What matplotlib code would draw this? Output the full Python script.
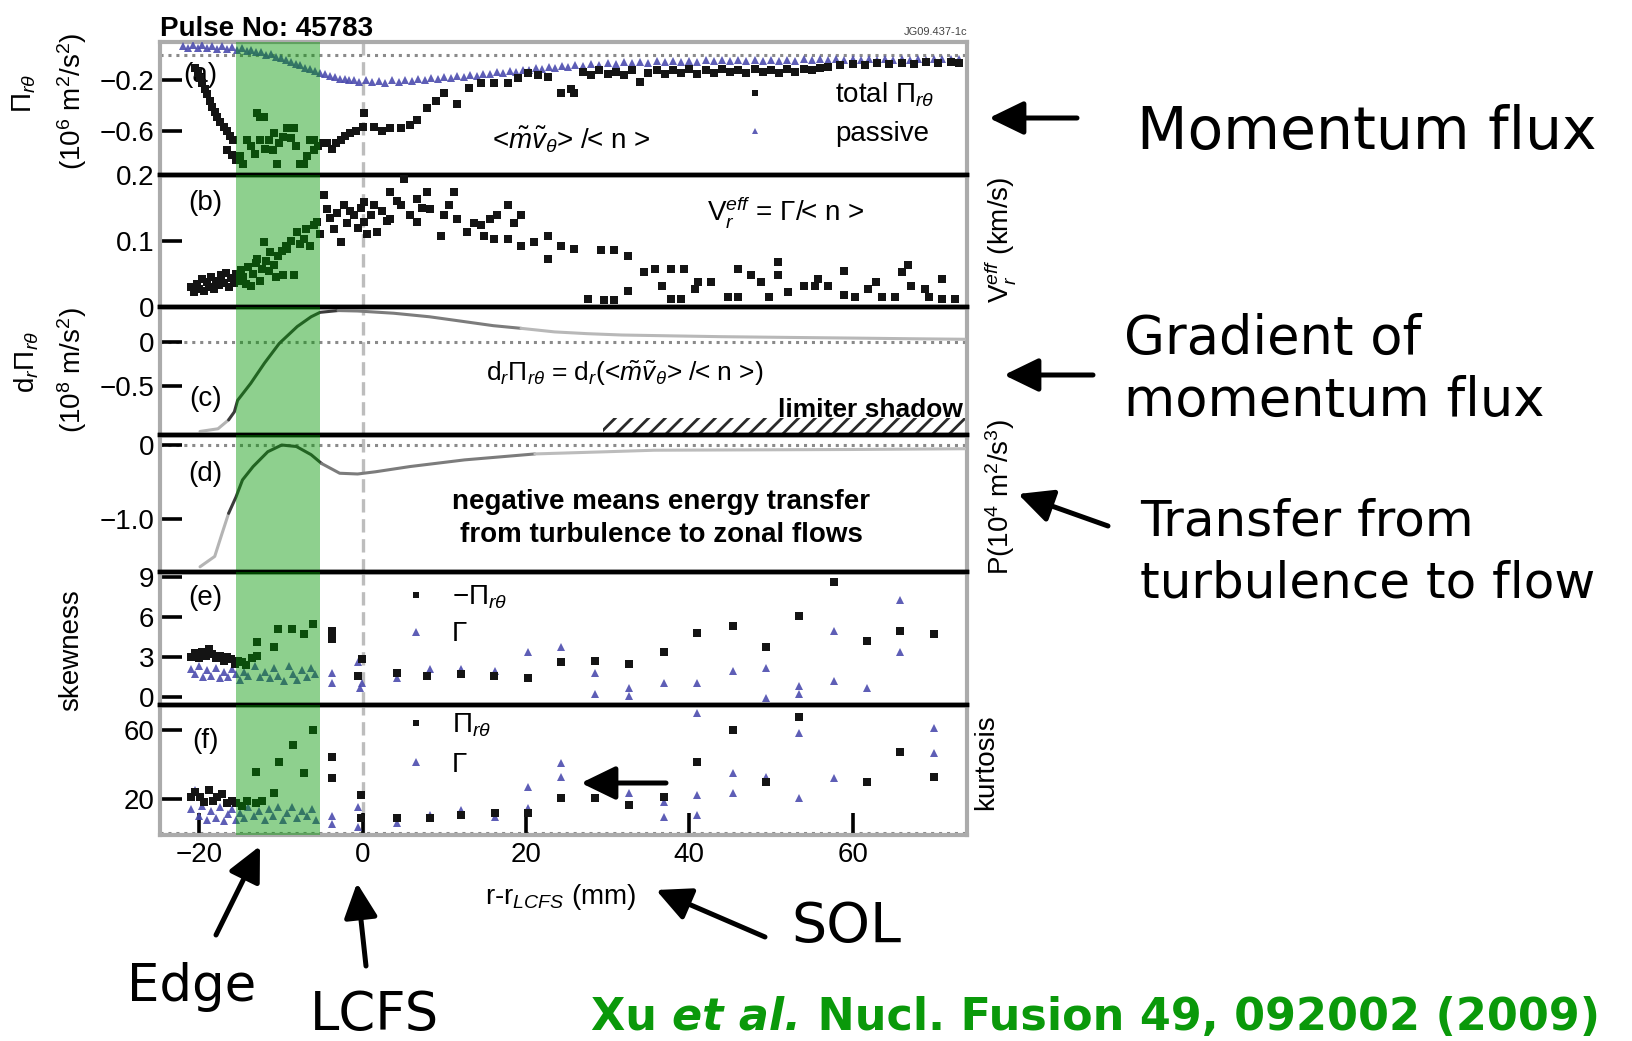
import matplotlib
matplotlib.use("Agg")
import matplotlib.pyplot as plt
import numpy as np

plt.rcParams['font.family'] = ['Liberation Sans', 'DejaVu Sans']
plt.rcParams['mathtext.fontset'] = 'custom'
plt.rcParams['mathtext.rm'] = 'Liberation Sans'
plt.rcParams['mathtext.it'] = 'Liberation Sans:italic'
plt.rcParams['mathtext.bf'] = 'Liberation Sans:bold'
plt.rcParams['mathtext.sf'] = 'Liberation Sans'
plt.rcParams['hatch.linewidth'] = 2.0

# ---------------------------------------------------------------- data
# (a) momentum flux Pi_r_theta (10^6 m^2/s^2)
pa_total_x = [-20.5, -20.2, -19.9, -19.6, -19.3, -19.0, -18.7, -18.4, -18.1, -17.8, -17.4,
              -17.0, -16.6, -16.2, -15.9, -16.6, -16.0, -15.5, -15.0, -14.6, -14.1, -13.6,
              -13.2, -12.9, -12.5, -12.1, -12.6, -11.9, -11.5, -11.0, -10.9, -10.5, -10.2,
              -9.7, -9.2, -8.8, -8.4, -8.8, -8.2, -7.6, -7.2, -6.8, -6.4, -6.0, -5.9, -5.4,
              -4.8, -4.3, -3.8, -3.3, -2.7, -2.1, -1.5, -0.8, 0.0, 0.2, 1.4, 2.4, 3.4, 4.7,
              5.8, 6.7, 7.9, 9.0, 10.0, 11.6, 13.0, 14.5, 16.1, 17.8, 19.0, 20.2, 21.5,
              22.7, 24.3, 25.5, 25.9, 27.0, 28.0, 29.0, 30.0, 31.0, 32.0, 33.0, 34.0, 35.0,
              36.0, 37.0, 38.0, 39.0, 40.0, 41.0, 42.0, 43.0, 44.0, 45.0, 46.0, 47.0, 48.0,
              49.0, 50.0, 51.0, 52.0, 53.0, 54.0, 55.0, 56.0, 57.0, 58.5, 60.0, 61.5, 63.0,
              64.5, 66.0, 67.5, 69.0, 70.5, 72.0, 73.0]
pa_total_y = [-0.10, -0.14, -0.18, -0.22, -0.27, -0.31, -0.36, -0.41, -0.45, -0.49, -0.53,
              -0.57, -0.60, -0.64, -0.67, -0.75, -0.79, -0.83, -0.80, -0.86, -0.67, -0.72,
              -0.78, -0.46, -0.49, -0.49, -0.67, -0.74, -0.67, -0.75, -0.62, -0.86, -0.70,
              -0.65, -0.58, -0.58, -0.58, -0.66, -0.72, -0.86, -0.86, -0.80, -0.67, -0.67,
              -0.75, -0.72, -0.70, -0.70, -0.74, -0.70, -0.67, -0.64, -0.62, -0.60, -0.57,
              -0.46, -0.57, -0.60, -0.58, -0.58, -0.55, -0.51, -0.42, -0.36, -0.30, -0.39,
              -0.26, -0.22, -0.22, -0.22, -0.18, -0.14, -0.16, -0.17, -0.30, -0.27, -0.30,
              -0.13, -0.16, -0.12, -0.15, -0.13, -0.16, -0.12, -0.21, -0.14, -0.12, -0.15,
              -0.12, -0.14, -0.11, -0.15, -0.12, -0.14, -0.11, -0.13, -0.12, -0.14, -0.11,
              -0.13, -0.12, -0.14, -0.11, -0.13, -0.11, -0.12, -0.10, -0.09, -0.08, -0.07,
              -0.08, -0.06, -0.07, -0.06, -0.07, -0.05, -0.06, -0.05, -0.06]

pa_pass_x = [-22.0, -21.4, -20.8, -20.2, -19.6, -19.0, -18.4, -17.8, -17.2, -16.6, -16.0,
             -15.4, -14.8, -14.2, -13.6, -13.0, -12.4, -11.8, -11.2, -10.6, -10.0, -9.4,
             -8.8, -8.2, -7.6, -7.0, -6.4, -5.8, -5.2, -4.6, -4.0, -3.4, -2.8, -2.2, -1.6,
             -1.0, -0.4, 0.4, 1.2, 2.0, 2.8, 3.6, 4.4, 5.2, 6.0, 6.8, 7.6, 8.4, 9.2, 10.0,
             10.8, 11.6, 12.4, 13.2, 14.0, 14.8, 15.6, 16.4, 17.2, 18.0, 18.8, 19.6, 20.4,
             21.2, 22.0, 22.8, 23.6, 24.4, 25.2, 26.0, 27.0, 28.0, 29.0, 30.0, 31.0, 32.0,
             33.0, 34.0, 35.0, 36.0, 37.0, 38.0, 39.0, 40.0, 41.0, 42.0, 43.0, 44.0, 45.0,
             46.0, 47.0, 48.0, 49.0, 50.0, 51.0, 52.0, 53.0, 54.0, 55.0, 56.0, 57.0, 58.0,
             59.0, 60.0, 61.0, 62.0, 63.0, 64.0, 65.0, 66.0, 67.0, 68.0, 69.0, 70.0, 71.0,
             72.0, 73.0]
pa_pass_y = [0.075, 0.060, 0.080, 0.055, 0.078, 0.058, 0.075, 0.052, 0.072, 0.050, 0.066,
             0.045, 0.058, 0.036, 0.045, 0.022, 0.028, 0.005, 0.008, -0.015, -0.022, -0.040,
             -0.052, -0.068, -0.080, -0.098, -0.110, -0.125, -0.140, -0.150, -0.168, -0.175,
             -0.190, -0.188, -0.200, -0.195, -0.210, -0.200, -0.215, -0.205, -0.218, -0.200,
             -0.212, -0.195, -0.205, -0.188, -0.198, -0.178, -0.190, -0.172, -0.182, -0.165,
             -0.172, -0.155, -0.162, -0.145, -0.150, -0.135, -0.140, -0.125, -0.130, -0.115,
             -0.120, -0.105, -0.110, -0.095, -0.100, -0.085, -0.090, -0.078, -0.082, -0.068,
             -0.075, -0.062, -0.068, -0.055, -0.062, -0.050, -0.058, -0.047, -0.055, -0.044,
             -0.052, -0.042, -0.050, -0.040, -0.048, -0.038, -0.046, -0.037, -0.045, -0.036,
             -0.044, -0.035, -0.043, -0.034, -0.042, -0.033, -0.041, -0.032, -0.040, -0.031,
             -0.039, -0.030, -0.038, -0.030, -0.037, -0.029, -0.036, -0.028, -0.035, -0.028,
             -0.034, -0.027, -0.033, -0.027, -0.032]

# (b) effective radial velocity V_r^eff (km/s)
pb_x = [-21.0, -20.6, -20.3, -20.0, -19.7, -19.4, -19.1, -18.8, -18.5, -18.2, -17.9, -17.6,
        -17.3, -17.0, -16.7, -16.4, -16.1, -15.8, -15.5, -15.2, -14.9, -14.6, -14.3, -14.0,
        -13.7, -13.4, -13.1, -12.9, -12.6, -12.3, -12.1, -11.8, -11.5, -11.3, -10.9, -10.6,
        -10.3, -9.9, -9.7, -9.4, -9.2, -8.8, -8.4, -8.0, -7.7, -7.2, -6.9, -6.4, -6.0, -5.6,
        -5.2, -4.7, -4.3, -4.0, -3.5, -3.1, -2.7, -2.3, -1.9, -1.5, -1.1, -0.6, -0.2, 0.2,
        0.2, 0.6, 1.0, 1.4, 1.8, 2.4, 3.0, 3.4, 3.4, 4.2, 4.7, 5.1, 5.8, 6.7, 6.7, 7.3, 7.9,
        8.3, 9.6, 10.0, 10.6, 11.2, 11.6, 12.8, 13.6, 14.5, 14.9, 15.6, 16.1, 16.5, 17.8,
        17.8, 18.6, 19.4, 19.4, 21.0, 22.7, 22.7, 24.3, 25.9, 27.6, 29.2, 29.6, 30.8, 30.8,
        32.5, 32.5, 34.5, 35.8, 36.6, 37.8, 37.8, 39.0, 39.4, 40.7, 41.1, 42.7, 44.7, 46.0,
        46.0, 47.6, 48.8, 49.7, 50.9, 50.9, 52.1, 54.1, 55.4, 55.8, 57.0, 59.0, 59.0, 60.3,
        61.9, 62.8, 63.6, 65.2, 66.0, 66.8, 67.2, 68.9, 69.3, 70.9, 70.9, 72.5]
pb_y = [0.030, 0.022, 0.035, 0.028, 0.042, 0.025, 0.038, 0.030, 0.045, 0.027, 0.040, 0.033,
        0.048, 0.036, 0.052, 0.030, 0.044, 0.037, 0.050, 0.040, 0.056, 0.045, 0.035, 0.060,
        0.032, 0.050, 0.066, 0.073, 0.040, 0.058, 0.098, 0.070, 0.054, 0.083, 0.063, 0.045,
        0.078, 0.085, 0.048, 0.092, 0.088, 0.100, 0.048, 0.113, 0.095, 0.103, 0.118, 0.093,
        0.125, 0.129, 0.110, 0.169, 0.149, 0.135, 0.118, 0.142, 0.098, 0.154, 0.128, 0.145,
        0.139, 0.120, 0.150, 0.159, 0.129, 0.110, 0.140, 0.154, 0.113, 0.145, 0.130, 0.174,
        0.134, 0.160, 0.154, 0.194, 0.140, 0.164, 0.129, 0.150, 0.174, 0.149, 0.108, 0.139,
        0.155, 0.174, 0.134, 0.113, 0.128, 0.124, 0.108, 0.133, 0.103, 0.139, 0.154, 0.103,
        0.128, 0.139, 0.093, 0.098, 0.108, 0.073, 0.093, 0.088, 0.012, 0.086, 0.010, 0.086,
        0.010, 0.078, 0.025, 0.053, 0.058, 0.032, 0.058, 0.012, 0.012, 0.058, 0.027, 0.038,
        0.038, 0.015, 0.015, 0.058, 0.048, 0.038, 0.015, 0.048, 0.068, 0.022, 0.032, 0.032,
        0.043, 0.032, 0.055, 0.018, 0.015, 0.027, 0.038, 0.015, 0.015, 0.053, 0.063, 0.032,
        0.027, 0.015, 0.043, 0.012, 0.012]

# (c) radial gradient of the momentum flux (10^8 m/s^2)
pc_x = [-19.9, -17.7, -16.4, -15.7, -15.3, -13.7, -12.0, -10.2, -8.0, -6.3, -5.2, -3.0, -0.6,
        3.8, 8.2, 12.5, 16.0, 19.4, 23.5, 27.5, 31.7, 38.0, 44.0, 52.0, 60.3, 67.0, 73.7]
pc_y = [-1.01, -0.98, -0.88, -0.79, -0.66, -0.47, -0.24, -0.02, 0.17, 0.28, 0.33, 0.35, 0.345,
        0.32, 0.28, 0.225, 0.18, 0.15, 0.11, 0.09, 0.075, 0.065, 0.056, 0.048, 0.040, 0.033,
        0.027]
limiter_start = 29.4

# (d) energy transfer rate P (10^4 m^2/s^3)
pd_x = [-19.9, -18.1, -17.2, -16.4, -15.5, -14.7, -13.4, -11.6, -9.9, -8.1, -6.3, -5.0, -2.8,
        -0.6, 1.6, 5.8, 12.5, 21.1, 30.0, 35.7, 48.0, 60.0, 73.7]
pd_y = [-1.64, -1.50, -1.19, -0.92, -0.70, -0.47, -0.29, -0.09, 0.0, -0.02, -0.13, -0.25, -0.38,
        -0.39, -0.36, -0.29, -0.20, -0.12, -0.09, -0.07, -0.065, -0.06, -0.05]

# (e) skewness
pe_pi_x = [-21.0, -20.5, -20.0, -19.7, -19.2, -18.8, -18.4, -18.0, -17.5, -17.0, -16.6, -16.1,
           -15.6, -15.2, -14.8, -14.3, -13.5, -12.9, -12.9, -10.9, -10.3, -8.6, -7.2, -6.1,
           -3.7, -3.7, -0.1, -0.6, 4.2, 7.9, 12.1, 16.1, 20.2, 24.3, 28.4, 32.6, 36.9, 41.0,
           45.3, 49.4, 53.4, 57.7, 61.7, 65.8, 70.0]
pe_pi_y = [3.0, 3.3, 2.9, 3.35, 3.1, 3.6, 3.2, 2.9, 3.1, 2.7, 3.0, 2.84, 2.5, 2.7, 2.6, 2.4, 2.9,
           4.1, 3.1, 3.73, 5.1, 5.1, 4.73, 5.49, 5.0, 4.36, 2.84, 1.58, 1.83, 1.58, 1.7, 1.58,
           1.45, 2.6, 2.7, 2.46, 3.35, 4.8, 5.36, 3.73, 6.1, 8.65, 4.23, 5.0, 4.73]
pe_gam_x = [-21.0, -20.5, -20.0, -19.5, -19.0, -18.5, -18.0, -17.5, -17.0, -16.5, -16.0, -15.5,
            -15.0, -14.5, -14.0, -13.2, -12.6, -12.0, -11.3, -10.8, -10.3, -9.6, -9.0, -8.5,
            -8.0, -7.4, -6.8, -6.3, -5.8, -3.7, -3.7, -0.6, -0.1, -0.3, 4.2, 8.2, 12.1, 16.2,
            20.2, 24.3, 28.4, 28.4, 32.6, 32.6, 36.9, 41.0, 45.3, 49.4, 49.4, 53.4, 53.4, 57.7,
            57.7, 61.7, 65.8, 65.8, 70.0]
pe_gam_y = [2.1, 1.7, 2.3, 1.5, 2.0, 1.6, 2.2, 1.4, 1.9, 1.5, 2.1, 1.7, 1.3, 1.9, 1.6, 2.3, 1.5,
            1.9, 1.4, 2.2, 1.6, 1.2, 2.3, 1.7, 1.3, 2.0, 1.5, 2.2, 1.7, 1.83, 1.08, 2.6, 1.08,
            0.7, 1.45, 2.08, 2.08, 1.95, 3.35, 3.75, 1.83, 0.2, 0.7, 0.06, 1.08, 1.08, 1.95,
            2.2, -0.06, 0.82, 0.2, 5.0, 1.2, 0.7, 7.26, 3.35, 4.73]

# (f) kurtosis
pf_pi_x = [-21.0, -20.5, -19.9, -19.4, -18.8, -18.3, -17.8, -17.2, -16.6, -16.0, -15.5, -14.8,
           -14.2, -13.1, -13.1, -12.3, -10.9, -10.2, -8.5, -7.2, -6.1, -3.7, -3.7, -0.2, -0.2,
           4.2, 8.2, 12.1, 16.2, 20.2, 24.3, 28.4, 32.6, 36.9, 41.0, 45.3, 49.4, 53.4, 61.7,
           65.8, 70.0]
pf_pi_y = [21.0, 24.0, 21.3, 18.0, 25.2, 19.0, 21.3, 23.0, 17.4, 19.0, 17.4, 16.0, 18.5, 35.8,
           17.4, 19.0, 23.2, 41.6, 51.4, 34.9, 60.1, 44.5, 32.0, 22.2, 8.7, 8.7, 8.7, 10.6, 11.6,
           11.6, 20.3, 20.3, 16.4, 21.3, 41.6, 60.1, 30.0, 67.8, 30.0, 47.5, 32.9]
pf_gam_x = [-21.0, -20.5, -20.0, -19.6, -19.0, -18.5, -18.0, -17.5, -17.0, -16.5, -16.0, -15.5,
            -15.0, -14.5, -14.0, -13.3, -12.7, -12.0, -11.5, -11.0, -10.3, -9.8, -9.2, -8.6,
            -8.0, -7.4, -6.8, -6.2, -5.7, -3.7, -3.7, -0.6, -0.6, 4.2, 8.2, 12.1, 16.2, 20.2,
            20.2, 24.3, 24.3, 28.4, 32.6, 36.9, 36.9, 41.0, 41.0, 41.0, 45.3, 45.3, 49.4, 53.4,
            53.4, 57.7, 70.0, 70.0]
pf_gam_y = [14.0, 25.2, 10.0, 16.0, 8.0, 13.0, 9.0, 15.0, 7.0, 11.0, 14.0, 8.0, 12.0, 9.0, 15.0,
            10.0, 13.0, 8.0, 14.0, 10.0, 15.4, 8.0, 12.0, 15.4, 9.0, 13.0, 10.0, 14.0, 8.0, 10.3,
            5.5, 15.4, 3.8, 5.8, 10.6, 13.5, 9.7, 27.1, 14.5, 40.7, 32.9, 20.3, 23.2, 18.4, 9.6,
            69.8, 22.3, 10.6, 34.9, 23.2, 32.9, 58.2, 20.3, 32.0, 61.1, 46.5]

edge_band = (-15.5, -5.2)
x_ticks = [-20, 0, 20, 40, 60]
x_ticklabels = ['\u221220', '0', '20', '40', '60']

# ---------------------------------------------------------------- figure
W, H, DPI = 1632, 1041, 100
fig = plt.figure(figsize=(W / DPI, H / DPI), dpi=DPI, facecolor='white')

L, R = 160, 967
bounds = [(42, 175), (175, 307), (307, 435), (435, 572), (572, 705), (705, 835)]
ylims = [(-0.95, 0.105), (0.0, 0.2), (-1.05, 0.39), (-1.71, 0.135), (-0.6, 9.4), (-1.0, 74.6)]
yticks = [[-0.6, -0.2], [0, 0.1, 0.2], [-0.5, 0], [-1.0, 0], [0, 3, 6, 9], [20, 60]]
yticklabels = [['\u22120.6', '\u22120.2'], ['0', '0.1', '0.2'], ['\u22120.5', '0'],
               ['\u22121.0', '0'], ['0', '3', '6', '9'], ['20', '60']]

FRAME = '#ababab'
BLK = '#141414'
BLUE = '#4c4cae'
GREEN = (2 / 255, 150 / 255, 2 / 255)
FS = 20
MS_BLK = 5.4

axes = []
for i, (top, bot) in enumerate(bounds):
    ax = fig.add_axes([L / W, 1 - bot / H, (R - L) / W, (bot - top) / H])
    ax.set_xlim(-24.8, 74.0)
    ax.set_ylim(*ylims[i])
    ax.set_yticks(yticks[i])
    ax.set_yticklabels(yticklabels[i], fontsize=FS)
    ax.tick_params(axis='y', direction='in', length=16, width=2.6, pad=4, colors='k')
    ax.set_xticks(x_ticks)
    if i == 5:
        ax.set_xticklabels(x_ticklabels, fontsize=FS)
        ax.tick_params(axis='x', direction='in', length=16, width=2.6, pad=5)
    else:
        ax.tick_params(axis='x', bottom=False, labelbottom=False)
    for s in ('left', 'right'):
        ax.spines[s].set_color(FRAME)
        ax.spines[s].set_linewidth(3.0)
    ax.spines['top'].set_color(FRAME if i == 0 else 'k')
    ax.spines['top'].set_linewidth(3.0 if i == 0 else 3.2)
    ax.spines['bottom'].set_color(FRAME if i == 5 else 'k')
    ax.spines['bottom'].set_linewidth(3.0 if i == 5 else 3.2)
    # separatrix position and edge region
    ax.axvline(0, color='#bdbdbd', lw=2.4, ls=(0, (4, 2)), zorder=1)
    ax.axvspan(*edge_band, color=GREEN, alpha=0.447, lw=0, zorder=10)
    ax.patch.set_alpha(0)
    axes.append(ax)

ax_a, ax_b, ax_c, ax_d, ax_e, ax_f = axes
dotted = dict(color='#8a8a8a', lw=2.2, ls=(0, (1, 1.6)), zorder=1)
for ax in (ax_a, ax_c, ax_d, ax_f):
    ax.axhline(0, **dotted)

# (a)
h_pas, = ax_a.plot(pa_pass_x, pa_pass_y, ls='none', marker='^', ms=5.8, color=BLUE,
                   mew=0, alpha=0.9, zorder=3)
h_tot, = ax_a.plot(pa_total_x, pa_total_y, ls='none', marker='s', ms=MS_BLK, color=BLK,
                   mew=0, zorder=4)
ax_a.legend([h_tot, h_pas], ['total \u03a0$_{r\\theta}$', 'passive'], loc='upper left',
            bbox_to_anchor=(0.72, 0.71), frameon=False, borderpad=0, borderaxespad=0,
            handlelength=1.0, handletextpad=2.4, labelspacing=0.42, fontsize=FS, numpoints=1,
            markerscale=0.8)
ax_a.text(0.509, 0.263, r'<$\tilde{m}\tilde{v}_{\theta}$> /< n >', transform=ax_a.transAxes,
          ha='center', va='center', fontsize=FS)
ax_a.text(0.05, 0.75, '(a)', transform=ax_a.transAxes, ha='center', va='center', fontsize=FS)

# (b)
ax_b.plot(pb_x, pb_y, ls='none', marker='s', ms=MS_BLK, color=BLK, mew=0, zorder=4)
ax_b.text(0.776, 0.72, 'V$_r^{eff}$ = \u0393/< n >',
          transform=ax_b.transAxes, ha='center', va='center', fontsize=FS)
ax_b.text(0.056, 0.788, '(b)', transform=ax_b.transAxes, ha='center', va='center', fontsize=FS)


def plot_segments(ax, xs, ys, pieces, lw=2.2):
    xs = np.asarray(xs)
    ys = np.asarray(ys)
    for (lo, hi), col in pieces:
        m = (xs >= lo) & (xs <= hi)
        ax.plot(xs[m], ys[m], color=col, lw=lw, zorder=3, solid_capstyle='round')


# (c)
plot_segments(ax_c, pc_x, pc_y, [((-19.9, -16.4), '#b4b4b4'), ((-16.4, -3.0), '#3c3c3c'),
                                 ((-3.0, 19.4), '#7c7c7c'), ((19.4, 73.7), '#b8b8b8')])
ax_c.fill_between([limiter_start, 74.0], ylims[2][0], -0.864, facecolor='none',
                  edgecolor='#2a2a2a', hatch='//', lw=0, zorder=2)
ax_c.text(0.995, 0.195, 'limiter shadow', transform=ax_c.transAxes, ha='right', va='center',
          fontsize=19, fontweight='bold', zorder=5)
ax_c.text(0.576, 0.484,
          'd$_r$\u03a0$_{r\\theta}$ = d$_r$(<$\\tilde{m}\\tilde{v}_{\\theta}$> /< n >)',
          transform=ax_c.transAxes, ha='center', va='center', fontsize=19)
ax_c.text(0.056, 0.281, '(c)', transform=ax_c.transAxes, ha='center', va='center', fontsize=FS)

# (d)
plot_segments(ax_d, pd_x, pd_y, [((-19.9, -16.4), '#b4b4b4'), ((-16.4, -5.0), '#3c3c3c'),
                                 ((-5.0, 21.1), '#7c7c7c'), ((21.1, 73.7), '#bcbcbc')])
ax_d.text(0.621, 0.387, 'negative means energy transfer\nfrom turbulence to zonal flows',
          transform=ax_d.transAxes, ha='center', va='center', fontsize=FS, fontweight='bold',
          linespacing=1.35)
ax_d.text(0.056, 0.715, '(d)', transform=ax_d.transAxes, ha='center', va='center', fontsize=FS)

# (e)
he_pi, = ax_e.plot(pe_pi_x, pe_pi_y, ls='none', marker='s', ms=MS_BLK, color=BLK, mew=0,
                   zorder=4)
he_g, = ax_e.plot(pe_gam_x, pe_gam_y, ls='none', marker='^', ms=6.4, color=BLUE, mew=0,
                  alpha=0.9, zorder=3)
ax_e.legend([he_pi, he_g], ['\u2212\u03a0$_{r\\theta}$', '\u0393'], loc='upper left',
            bbox_to_anchor=(0.30, 0.915), frameon=False, borderpad=0, borderaxespad=0,
            handlelength=1.0, handletextpad=0.8, labelspacing=0.38, fontsize=FS, numpoints=1,
            markerscale=0.85)
ax_e.text(0.056, 0.805, '(e)', transform=ax_e.transAxes, ha='center', va='center', fontsize=FS)

# (f)
hf_pi, = ax_f.plot(pf_pi_x, pf_pi_y, ls='none', marker='s', ms=MS_BLK, color=BLK, mew=0,
                   zorder=4)
hf_g, = ax_f.plot(pf_gam_x, pf_gam_y, ls='none', marker='^', ms=6.4, color=BLUE, mew=0,
                  alpha=0.9, zorder=3)
ax_f.legend([hf_pi, hf_g], ['\u03a0$_{r\\theta}$', '\u0393'], loc='upper left',
            bbox_to_anchor=(0.30, 0.95), frameon=False, borderpad=0, borderaxespad=0,
            handlelength=1.0, handletextpad=0.8, labelspacing=0.45, fontsize=FS, numpoints=1,
            markerscale=0.85)
ax_f.text(0.056, 0.723, '(f)', transform=ax_f.transAxes, ha='center', va='center', fontsize=FS)
ax_f.text(0.497, -0.477, 'r-r$_{LCFS}$ (mm)', transform=ax_f.transAxes, ha='center',
          va='center', fontsize=FS)

# axis titles
lab = dict(rotation=90, ha='center', va='center', fontsize=FS)
ax_a.text(-0.168, 0.617, '\u03a0$_{r\\theta}$', transform=ax_a.transAxes, **lab)
ax_a.text(-0.109, 0.556, '(10$^6$ m$^2$/s$^2$)', transform=ax_a.transAxes, **lab)
ax_c.text(-0.165, 0.57, 'd$_r$\u03a0$_{r\\theta}$', transform=ax_c.transAxes, **lab)
ax_c.text(-0.109, 0.508, '(10$^8$ m/s$^2$)', transform=ax_c.transAxes, **lab)
ax_e.text(-0.110, 0.414, 'skewness', transform=ax_e.transAxes, **lab)
ax_b.text(1.041, 0.508, 'V$_r^{eff}$ (km/s)', transform=ax_b.transAxes, **lab)
ax_d.text(1.041, 0.547, 'P(10$^4$ m$^2$/s$^3$)', transform=ax_d.transAxes, **lab)
ax_f.text(1.024, 0.56, 'kurtosis', transform=ax_f.transAxes, **lab)

ax_a.text(0.0, 1.0, 'Pulse No: 45783', transform=ax_a.transAxes, ha='left', va='bottom',
          fontsize=FS, fontweight='bold')
ax_a.text(1.0, 1.04, 'JG09.437-1c', transform=ax_a.transAxes, ha='right', va='bottom',
          fontsize=8, color='#444444')

# ---------------------------------------------------------------- annotations
ov = fig.add_axes([0, 0, 1, 1], zorder=20)
ov.set_xlim(0, W)
ov.set_ylim(H, 0)
ov.axis('off')
ov.patch.set_alpha(0)

arrow = dict(arrowstyle='-|>,head_length=0.7,head_width=0.34', lw=3.6, color='k',
             shrinkA=0, shrinkB=0, mutation_scale=30)
for tail, head in [((1077, 118), (989, 118)), ((1093, 375), (1004, 375)),
                   ((1108, 526), (1018, 494)), ((765, 937), (656, 890)),
                   ((216, 935), (260, 846)), ((366, 966), (357, 883)),
                   ((666, 783), (581, 783))]:
    ov.annotate('', xy=head, xytext=tail, arrowprops=arrow)

note = dict(family='DejaVu Sans', color='k', va='baseline', ha='left')
ov.text(1137, 149, 'Momentum flux', fontsize=42, **note)
ov.text(1124, 354, 'Gradient of', fontsize=38, **note)
ov.text(1124, 416, 'momentum flux', fontsize=38, **note)
ov.text(1140, 536, 'Transfer from', fontsize=36, **note)
ov.text(1140, 598, 'turbulence to flow', fontsize=36, **note)
ov.text(791, 942, 'SOL', fontsize=40, **note)
ov.text(127, 1001, 'Edge', fontsize=37, **note)
ov.text(310, 1030, 'LCFS', fontsize=38, **note)

# citation line: upright, italic and upright pieces laid end to end
cite = dict(family='DejaVu Sans', fontweight='bold', color='#0a990a', va='baseline',
            ha='left', fontsize=32)
x_cur = 591
renderer = fig.canvas.get_renderer()
for piece, style in [('Xu ', 'normal'), ('et al.', 'italic'),
                     (' Nucl. Fusion 49, 092002 (2009)', 'normal')]:
    t = ov.text(x_cur, 1030, piece, fontstyle=style, **cite)
    bb = t.get_window_extent(renderer=renderer)
    x_cur = ov.transData.inverted().transform((bb.x1, bb.y0))[0]

fig.savefig('out.png', dpi=DPI, facecolor='white')
